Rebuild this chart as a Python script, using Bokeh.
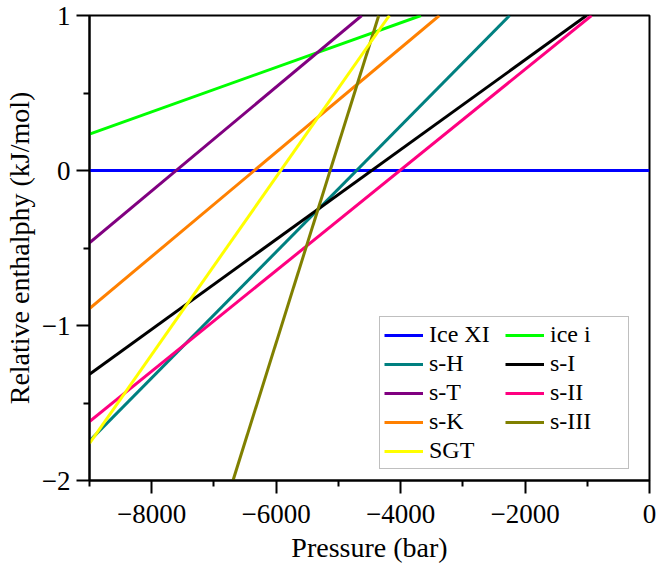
from bokeh.plotting import figure
from bokeh.models import FixedTicker, Legend, LegendItem
from bokeh.embed import file_html
from bokeh.resources import INLINE

# ---- data ----
series = ["Ice XI", "ice i", "s-H", "s-I", "s-T", "s-II", "s-K", "s-III", "SGT"]
colors = ["#0000ff", "#00ff00", "#008080", "#000000", "#800080",
          "#ff0080", "#ff8000", "#808000", "#ffff00"]
# each series is a straight line between a start and an end point
pressure_start = [-9000, -9000, -9000, -9000, -9000, -9000, -9000, -6694, -9000]
enthalpy_start = [0.0, 0.235, -1.745, -1.314, -0.467, -1.62, -0.891, -2.0, -1.76]
pressure_end = [0, -3672, -2248, -1012, -4624, -931, -3377, -4351, -4180]
enthalpy_end = [0.0, 1.0, 1.0, 1.0, 1.0, 1.0, 1.0, 1.0, 1.0]

x_ticks = [-8000, -6000, -4000, -2000, 0]
x_tick_labels = ["\u22128000", "\u22126000", "\u22124000", "\u22122000", "0"]
x_minor = [-9000, -7000, -5000, -3000, -1000]
y_ticks = [-2, -1, 0, 1]
y_tick_labels = ["\u22122", "\u22121", "0", "1"]
y_minor = [-1.5, -0.5, 0.5]

FONT = "Liberation Serif"

p = figure(frame_width=560, frame_height=465,
           x_range=(-9000, 0), y_range=(-2, 1),
           min_border_left=84, min_border_right=8,
           min_border_top=15, min_border_bottom=88,
           output_backend="svg", toolbar_location=None,
           background_fill_color="white", border_fill_color="white")

p.xgrid.visible = False
p.ygrid.visible = False
p.outline_line_color = "black"
p.outline_line_width = 2
p.outline_line_alpha = 1

renderers = []
for i, name in enumerate(series):
    r = p.line([pressure_start[i], pressure_end[i]],
               [enthalpy_start[i], enthalpy_end[i]],
               line_color=colors[i], line_width=3)
    renderers.append(r)

p.xaxis.ticker = FixedTicker(ticks=x_ticks, minor_ticks=x_minor)
p.yaxis.ticker = FixedTicker(ticks=y_ticks, minor_ticks=y_minor)
p.xaxis.major_label_overrides = dict(zip(x_ticks, x_tick_labels))
p.yaxis.major_label_overrides = dict(zip(y_ticks, y_tick_labels))

for ax in (p.xaxis, p.yaxis):
    ax.axis_line_width = 2
    ax.axis_line_color = "black"
    ax.major_tick_line_width = 2
    ax.minor_tick_line_width = 2
    ax.major_tick_line_color = "black"
    ax.minor_tick_line_color = "black"
    ax.major_tick_in = 0
    ax.major_tick_out = 13
    ax.minor_tick_in = 0
    ax.minor_tick_out = 6
    ax.major_label_text_font = FONT
    ax.major_label_text_font_size = "27px"
    ax.major_label_text_color = "black"
    ax.axis_label_text_font = FONT
    ax.axis_label_text_font_size = "28px"
    ax.axis_label_text_font_style = "normal"
    ax.axis_label_text_color = "black"

p.xaxis.axis_label = "Pressure (bar)"
p.yaxis.axis_label = "Relative enthalphy (kJ/mol)"
p.xaxis.major_label_standoff = 11
p.yaxis.major_label_standoff = 6
p.xaxis.axis_label_standoff = 6
p.yaxis.axis_label_standoff = 4

legend = Legend(items=[LegendItem(label=series[i], renderers=[renderers[i]])
                       for i in range(len(series))],
                location=(290, 11), orientation="horizontal", ncols=2)
legend.label_text_font = FONT
legend.label_text_font_size = "24px"
legend.label_text_color = "black"
legend.glyph_width = 39
legend.glyph_height = 22
legend.label_height = 22
legend.label_width = 74
legend.label_standoff = 6
legend.spacing = 2
legend.padding = 4
legend.margin = 0
legend.border_line_color = "#808080"
legend.border_line_width = 1.5
legend.background_fill_color = "white"
legend.background_fill_alpha = 1
p.add_layout(legend, "center")

open("out.html", "w").write(file_html(p, INLINE))
